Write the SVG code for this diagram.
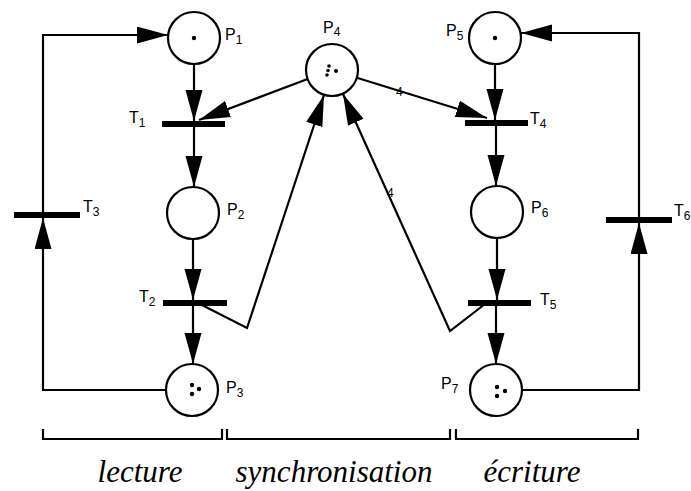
<svg xmlns="http://www.w3.org/2000/svg" width="691" height="491" viewBox="0 0 691 491">
<defs>
<style>
.pl{fill:#fff;stroke:#000;stroke-width:2.2}
.tok{fill:#000}
.bar{stroke:#000;stroke-width:6}
.arc{fill:none;stroke:#000;stroke-width:2.2;stroke-linejoin:miter}
.lbl{font-family:"Liberation Sans",Arial,sans-serif;font-size:16px;fill:#000}
.sub{font-size:12px}
.w{font-family:"Liberation Sans",Arial,sans-serif;font-size:12px;fill:#000}
.cap{font-family:"Liberation Serif","Times New Roman",serif;font-style:italic;font-size:31px;fill:#000;text-anchor:middle}
.br{fill:none;stroke:#000;stroke-width:2.2}
</style>
<marker id="ah" markerUnits="userSpaceOnUse" markerWidth="32" markerHeight="18" refX="31" refY="8.5" orient="auto">
<path d="M0,0 L31,8.5 L0,17 z" fill="#000"/>
</marker>
</defs>
<rect width="691" height="491" fill="#fff"/>
<g id="connectors">
<line class="arc" x1="194" y1="64" x2="194" y2="121" marker-end="url(#ah)"/>
<line class="arc" x1="194" y1="127" x2="194" y2="187" marker-end="url(#ah)"/>
<line class="arc" x1="193" y1="239" x2="193" y2="300" marker-end="url(#ah)"/>
<line class="arc" x1="193" y1="306" x2="193" y2="364" marker-end="url(#ah)"/>
<line class="arc" x1="495" y1="64" x2="495" y2="120" marker-end="url(#ah)"/>
<line class="arc" x1="496" y1="126" x2="496" y2="186" marker-end="url(#ah)"/>
<line class="arc" x1="497" y1="238" x2="497" y2="300" marker-end="url(#ah)"/>
<line class="arc" x1="496" y1="306" x2="496" y2="364" marker-end="url(#ah)"/>
<polyline class="arc" points="166,390 43,390 43,218" marker-end="url(#ah)"/>
<polyline class="arc" points="43,215 43,35 168,35" marker-end="url(#ah)"/>
<polyline class="arc" points="522,390 639,390 639,223" marker-end="url(#ah)"/>
<polyline class="arc" points="639,220 639,33 521,33" marker-end="url(#ah)"/>
<line class="arc" x1="307.6" y1="79" x2="199" y2="120" marker-end="url(#ah)"/>
<line class="arc" x1="356.8" y1="77.7" x2="487" y2="118" marker-end="url(#ah)"/>
<polyline class="arc" points="198,303 247,328 324,95" marker-end="url(#ah)"/>
<polyline class="arc" points="485,304 450,331 343,94" marker-end="url(#ah)"/>
<text class="w" x="396" y="96">4</text>
<text class="w" x="387" y="197">4</text>
</g>
<g id="P1"><circle class="pl" cx="194" cy="38" r="26"/><circle class="tok" cx="194" cy="38" r="2.2"/><text class="lbl" x="225" y="40">P<tspan class="sub" dy="4">1</tspan></text></g>
<g id="P2"><circle class="pl" cx="193" cy="213" r="26"/><text class="lbl" x="227" y="215">P<tspan class="sub" dy="4">2</tspan></text></g>
<g id="P3"><circle class="pl" cx="192" cy="390" r="26"/><circle class="tok" cx="192" cy="385" r="2.2"/><circle class="tok" cx="192" cy="394" r="2.2"/><circle class="tok" cx="199" cy="389" r="2.2"/><text class="lbl" x="226" y="393">P<tspan class="sub" dy="4">3</tspan></text></g>
<g id="P4"><circle class="pl" cx="332" cy="70" r="26"/><circle class="tok" cx="329" cy="66" r="1.8"/><circle class="tok" cx="328" cy="70.5" r="1.8"/><circle class="tok" cx="327" cy="75" r="1.8"/><circle class="tok" cx="336" cy="71" r="2"/><text class="lbl" x="323" y="33">P<tspan class="sub" dy="3">4</tspan></text></g>
<g id="P5"><circle class="pl" cx="495" cy="38" r="26"/><circle class="tok" cx="495" cy="38" r="2.2"/><text class="lbl" x="446" y="36">P<tspan class="sub" dy="4">5</tspan></text></g>
<g id="P6"><circle class="pl" cx="497" cy="212" r="26"/><text class="lbl" x="531" y="213">P<tspan class="sub" dy="4">6</tspan></text></g>
<g id="P7"><circle class="pl" cx="496" cy="390" r="26"/><circle class="tok" cx="497" cy="387" r="2.2"/><circle class="tok" cx="497" cy="396" r="2.2"/><circle class="tok" cx="505" cy="391" r="2.2"/><text class="lbl" x="441" y="389">P<tspan class="sub" dy="4">7</tspan></text></g>
<g id="T1"><line class="bar" x1="162" y1="124" x2="225" y2="124"/><text class="lbl" x="129" y="123">T<tspan class="sub" dy="4">1</tspan></text></g>
<g id="T2"><line class="bar" x1="163" y1="303" x2="227" y2="303"/><text class="lbl" x="139" y="302">T<tspan class="sub" dy="4">2</tspan></text></g>
<g id="T3"><line class="bar" x1="14" y1="215" x2="80" y2="215"/><text class="lbl" x="83" y="212">T<tspan class="sub" dy="4">3</tspan></text></g>
<g id="T4"><line class="bar" x1="465" y1="123" x2="528" y2="123"/><text class="lbl" x="530" y="124">T<tspan class="sub" dy="4">4</tspan></text></g>
<g id="T5"><line class="bar" x1="468" y1="303" x2="531" y2="303"/><text class="lbl" x="540" y="305">T<tspan class="sub" dy="4">5</tspan></text></g>
<g id="T6"><line class="bar" x1="606" y1="220" x2="672" y2="220"/><text class="lbl" x="674" y="216">T<tspan class="sub" dy="4">6</tspan></text></g>
<g id="brackets">
<path class="br" d="M43,429 V439 H222 V429"/>
<path class="br" d="M227,429 V439 H450 V429"/>
<path class="br" d="M456,429 V439 H638 V429"/>
</g>
<text class="cap" x="140" y="482">lecture</text>
<text class="cap" x="334" y="482">synchronisation</text>
<text class="cap" x="532" y="482">écriture</text>
</svg>
